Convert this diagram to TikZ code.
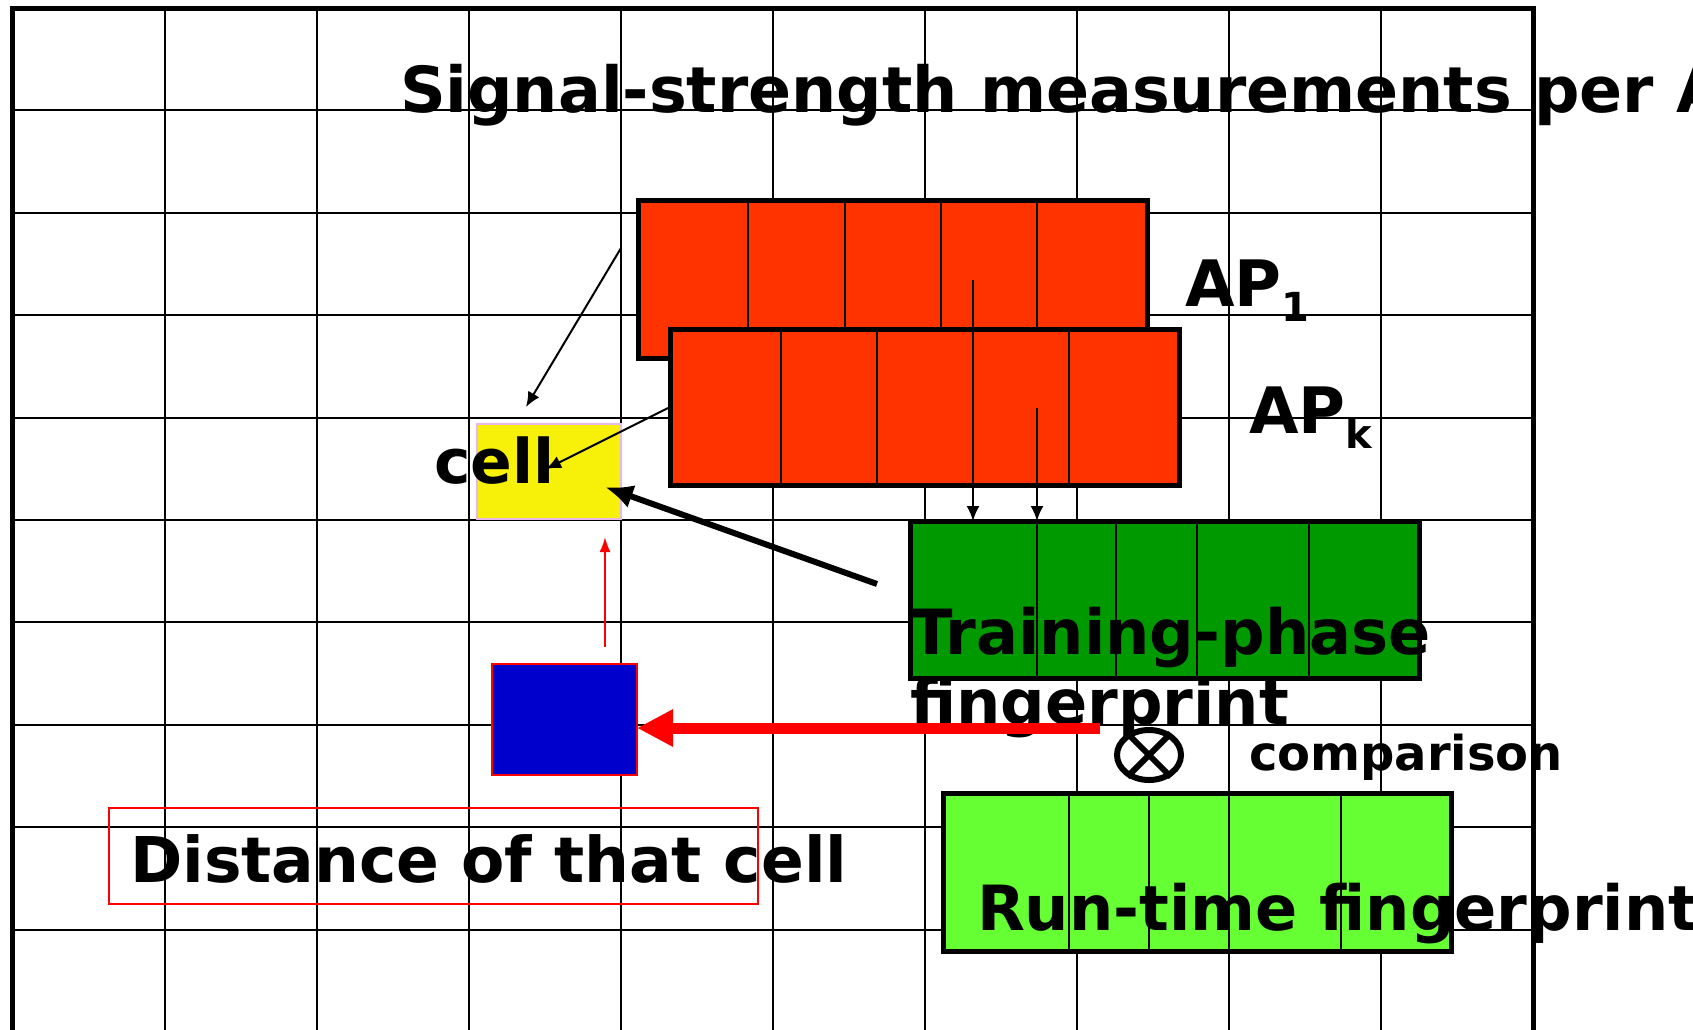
\documentclass[tikz,border=0pt]{standalone}
\usepackage{fontspec}
\setmainfont{DejaVu Sans}
\usetikzlibrary{arrows.meta,shapes.geometric}
\definecolor{apred}{RGB}{255,51,0}
\definecolor{trngreen}{RGB}{0,153,0}
\definecolor{rungreen}{RGB}{102,255,51}
\definecolor{cellyellow}{RGB}{247,240,8}
\definecolor{cellborder}{RGB}{232,184,232}
\definecolor{cellblue}{RGB}{0,0,204}
\definecolor{pure red}{RGB}{255,0,0}
\begin{document}
\begin{tikzpicture}[x=1pt,y=-1pt,
  gridline/.style={line width=2pt, black},
  frame/.style={line width=5pt, black, line join=miter},
  fpbox/.style={draw=black, line width=5pt, inner sep=0pt, outer sep=0pt, minimum width=509pt, minimum height=157pt},
  divider/.style={line width=2.5pt, black},
  lbl/.style={inner sep=0pt, outer sep=0pt, anchor=base west},
  thinarrow/.style={line width=2pt, black, -{Latex[length=15pt,width=13pt]}},
  bigtext/.style={font=\fontsize{62.3}{70}\selectfont\bfseries}
]
\useasboundingbox (0,0) rectangle (1693,1029);
\clip (0,0) rectangle (1693,1029);
\fill[white] (0,0) rectangle (1693,1029);

% grid
\foreach \k in {1,...,9} \draw[gridline] (12.5,{8+102.4*\k}) -- (1533,{8+102.4*\k});
\foreach \k in {1,...,9} \draw[gridline] ({12.5+152.05*\k},8) -- ({12.5+152.05*\k},1032);
\draw[frame] (12.5,1032) -- (12.5,8) -- (1533,8) -- (1533,1032);

% title
\node[lbl, font=\fontsize{63.5}{70}\selectfont\bfseries] (title) at (400,112) {Signal-strength measurements per A};

% AP boxes
\node[fpbox, fill=apred, minimum height=158pt] (ap1) at (892.5,279) {};
\foreach \x in {748,845,941,1037} \draw[divider] (\x,0 |- ap1.north) -- (\x,0 |- ap1.south);
\node[fpbox, fill=apred, minimum height=156pt] (apk) at (924.5,407) {};
\foreach \x in {781,877,973,1069} \draw[divider] (\x,0 |- apk.north) -- (\x,0 |- apk.south);

\node[lbl, font=\fontsize{64}{70}\selectfont\bfseries] (ap1lbl) at (1185,306) {AP\raisebox{-15pt}{\fontsize{40}{40}\selectfont 1}};
\node[lbl, font=\fontsize{64}{70}\selectfont\bfseries] (apklbl) at (1249,433) {AP\raisebox{-15pt}{\fontsize{40}{40}\selectfont k}};

% training-phase fingerprint
\node[fpbox, fill=trngreen] (trn) at (1164.5,599.5) {};
\foreach \x in {1037,1116,1197,1309} \draw[divider] (\x,0 |- trn.north) -- (\x,0 |- trn.south);

% run-time fingerprint
\node[fpbox, fill=rungreen, minimum width=508pt, minimum height=158pt] (run) at (1197,872) {};
\foreach \x in {1069,1149,1229,1341} \draw[divider] (\x,0 |- run.north) -- (\x,0 |- run.south);

% cell
\node[draw=cellborder, line width=1.5pt, fill=cellyellow, minimum width=144pt, minimum height=95pt, inner sep=0pt, outer sep=0pt] (cellbox) at (549,471.5) {};
\node[lbl, font=\fontsize{61.5}{70}\selectfont\bfseries] (celltxt) at (434,483) {cell};

% blue cell
\node[draw=pure red, line width=2pt, fill=cellblue, minimum width=145pt, minimum height=111pt, inner sep=0pt, outer sep=0pt] (blue) at (564.5,719.5) {};

% distance box
\node[draw=pure red, line width=2pt, minimum width=649pt, minimum height=96pt, inner sep=0pt, outer sep=0pt] (distbox) at (433.5,856) {};
\node[lbl, font=\fontsize{63.1}{70}\selectfont\bfseries] (disttxt) at (130,882) {Distance of that cell};

% texts
\node[inner sep=0pt, outer sep=0pt, anchor=north west, align=left, bigtext] (trntxt) at (910,607) {Training-phase\\fingerprint};
\node[lbl, bigtext] (runtxt) at (977,930) {Run-time fingerprint};
\node[lbl, font=\fontsize{48}{52}\selectfont\bfseries] (cmptxt) at (1249,770) {comparison};

% comparison symbol
\node[draw, ellipse, line width=6pt, minimum width=64pt, minimum height=50pt, inner sep=0pt] (cmp) at (1149,755) {};
\draw[line width=6pt] (cmp.135) -- (cmp.-45);
\draw[line width=6pt] (cmp.45) -- (cmp.-135);

% connectors
\coordinate (a1s) at (621,248);
\coordinate (a1e) at (526,407);
\draw[thinarrow] (a1s) -- (a1e);
\coordinate (a2s) at (668,408);
\coordinate (a2e) at (546,469);
\draw[thinarrow] (a2s) -- (a2e);
\coordinate (v1) at (973,280);
\draw[thinarrow] (v1) -- (v1 |- trn.north);
\coordinate (v2) at (1037,408);
\draw[thinarrow] (v2) -- (v2 |- trn.north);
\coordinate (tb) at (877,584);
\coordinate (tc) at (605,487);
\draw[line width=6pt, -{Latex[length=28pt,width=24pt]}] (tb) -- (tc);
\coordinate (rs) at (605,647);
\coordinate (re) at (605,537);
\draw[line width=2pt, pure red, -{Latex[length=15pt,width=11pt]}] (rs) -- (re);
\coordinate (rt) at (1100,728);
\draw[line width=11pt, pure red, -{Triangle[length=36pt,width=35pt]}] (rt) -- (rt -| blue.east);
\end{tikzpicture}
\end{document}
